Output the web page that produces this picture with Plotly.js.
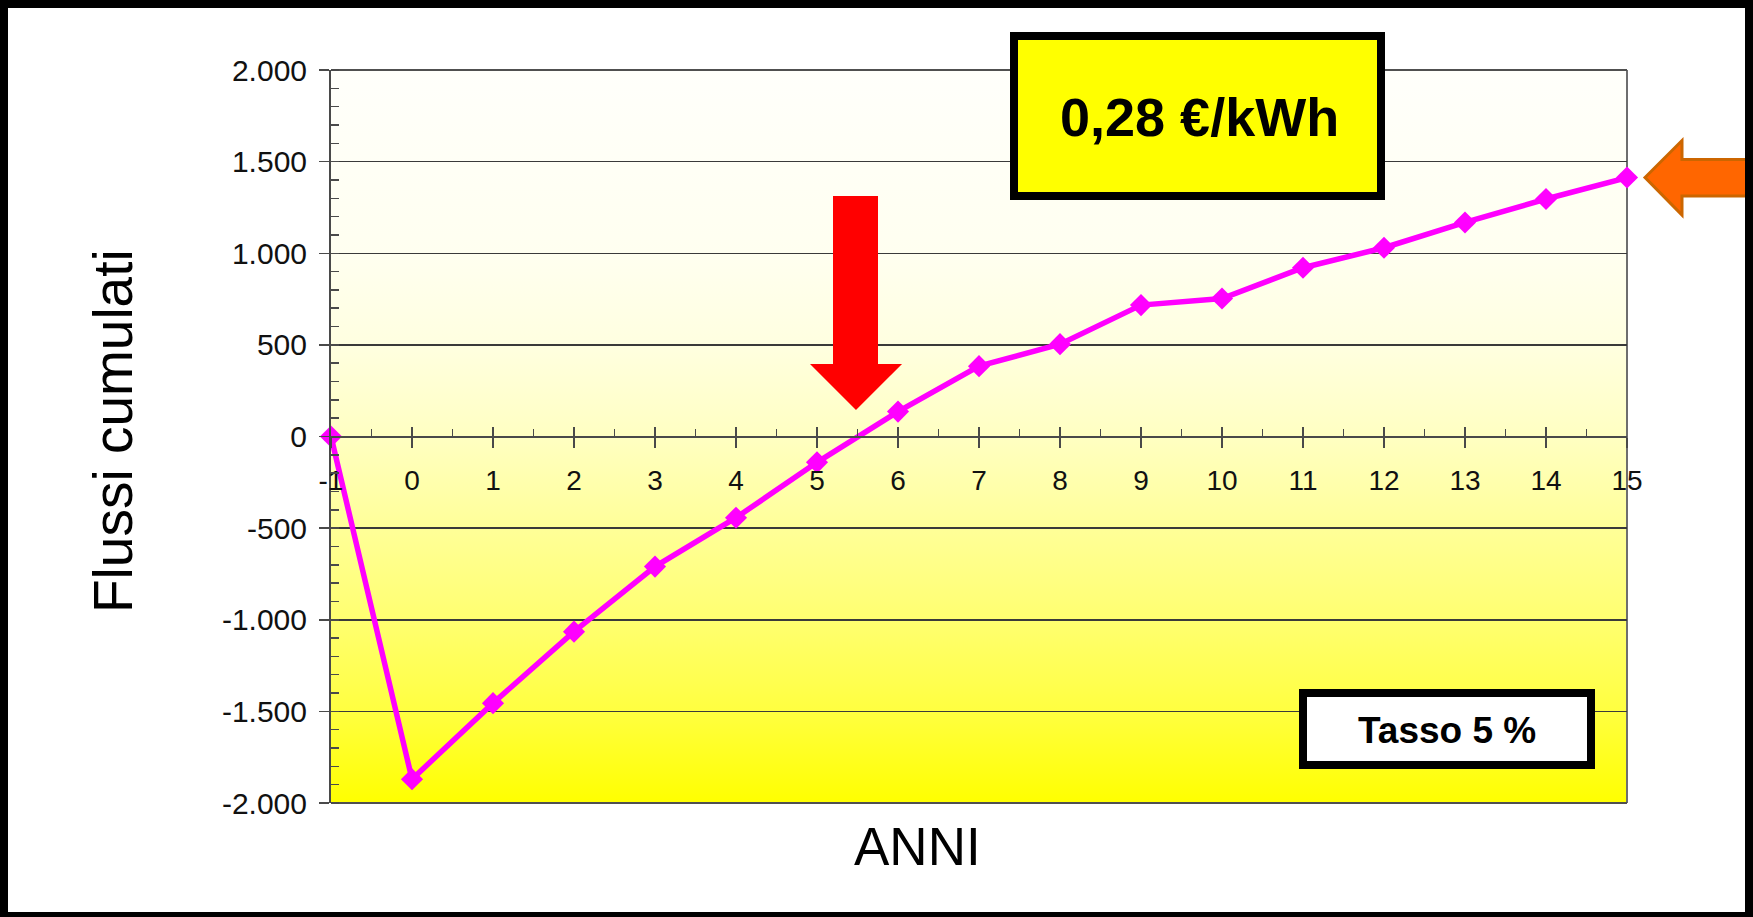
<!DOCTYPE html>
<html>
<head>
<meta charset="utf-8">
<script src="https://cdn.plot.ly/plotly-3.0.1.min.js"></script>
<style>
  html, body { margin: 0; padding: 0; background: #ffffff; }
  #chart { width: 1753px; height: 917px; }
</style>
</head>
<body>
<div id="chart"></div>
<script>
// ---- data ----
const years = [-1, 0, 1, 2, 3, 4, 5, 6, 7, 8, 9, 10, 11, 12, 13, 14, 15];
const cumFlows = [0, -1870, -1455, -1065, -710, -443, -141, 136, 384, 504, 717, 753, 921, 1030, 1168, 1296, 1413];
const yTickVals = [-2000, -1500, -1000, -500, 0, 500, 1000, 1500, 2000];
const yTickText = ['-2.000', '-1.500', '-1.000', '-500', '0', '500', '1.000', '1.500', '2.000'];
const xTickVals = years;
const xTickText = years.map(String);
const priceLabel = '0,28 €/kWh';
const rateLabel = 'Tasso 5 %';
const xTitle = 'ANNI';
const yTitle = 'Flussi cumulati';

// ---- layout geometry (pixels) ----
const FIG_W = 1753, FIG_H = 917;
const L = 331, R = 1627, T = 70, B = 803;
const PW = R - L, PH = B - T;
const px = x => (x - L) / PW;
const py = y => 1 - (y - T) / PH;
const FONT = 'Arial, "Liberation Sans", sans-serif';

function rectShape(x0, y0, x1, y1, fill, lineColor, lineWidth, layer) {
  return {
    type: 'rect', xref: 'paper', yref: 'paper',
    x0: px(x0), x1: px(x1), y0: py(y1), y1: py(y0),
    fillcolor: fill, layer: layer || 'above',
    line: { color: lineColor || 'rgba(0,0,0,0)', width: lineWidth || 0 }
  };
}
function pathShape(points, fill, lineColor, lineWidth) {
  const d = points.map((p, i) => (i ? 'L' : 'M') + px(p[0]).toFixed(5) + ',' + py(p[1]).toFixed(5)).join(' ') + ' Z';
  return {
    type: 'path', xref: 'paper', yref: 'paper', path: d,
    fillcolor: fill, layer: 'above',
    line: { color: lineColor || 'rgba(0,0,0,0)', width: lineWidth || 0 }
  };
}

// gradient background for the plot area
const gradSvg = '<svg xmlns="http://www.w3.org/2000/svg" width="10" height="100" viewBox="0 0 10 100" preserveAspectRatio="none">' +
  '<defs><linearGradient id="g" x1="0" y1="0" x2="0" y2="1">' +
  '<stop offset="0" stop-color="#fffffb"/>' +
  '<stop offset="0.25" stop-color="#fffff0"/>' +
  '<stop offset="0.375" stop-color="#ffffe0"/>' +
  '<stop offset="0.5" stop-color="#ffffc2"/>' +
  '<stop offset="0.625" stop-color="#ffff98"/>' +
  '<stop offset="0.75" stop-color="#ffff70"/>' +
  '<stop offset="0.875" stop-color="#ffff40"/>' +
  '<stop offset="1" stop-color="#ffff00"/>' +
  '</linearGradient></defs><rect x="0" y="0" width="10" height="100" fill="url(#g)"/></svg>';
const gradUri = 'data:image/svg+xml;charset=utf-8,' + encodeURIComponent(gradSvg);

const traces = [
  {
    x: years, y: cumFlows, type: 'scatter', mode: 'lines+markers',
    line: { color: '#ff00ff', width: 5.5 },
    marker: { symbol: 'diamond', size: 17, color: '#ff00ff' },
    cliponaxis: false, showlegend: false
  },
  {
    x: years, y: cumFlows, xaxis: 'x2', type: 'scatter', mode: 'markers',
    marker: { opacity: 0, size: 1 }, hoverinfo: 'skip', showlegend: false
  }
];

const axisColor = '#4a4a4a';
const layout = {
  width: FIG_W, height: FIG_H,
  margin: { l: L, r: FIG_W - R, t: T, b: FIG_H - B, pad: 0 },
  paper_bgcolor: '#ffffff',
  plot_bgcolor: 'rgba(0,0,0,0)',
  showlegend: false,
  font: { family: FONT, color: '#111111' },
  xaxis: {
    range: [-1, 15], anchor: 'free', position: 0.5,
    tickmode: 'array', tickvals: xTickVals, ticktext: xTickText,
    ticks: 'outside', ticklen: 10, tickwidth: 1.5, tickcolor: axisColor,
    ticklabelstandoff: 9,
    tickfont: { family: FONT, size: 28, color: '#111111' },
    minor: { tickmode: 'linear', tick0: -0.5, dtick: 1, ticks: 'inside', ticklen: 7, tickwidth: 1.5, tickcolor: axisColor, showgrid: false },
    showline: true, linecolor: axisColor, linewidth: 2,
    showgrid: false, zeroline: false, fixedrange: true
  },
  xaxis2: {
    range: [-1, 15], overlaying: 'x', anchor: 'free', position: 0.5, side: 'bottom',
    tickmode: 'array', tickvals: xTickVals,
    ticks: 'inside', ticklen: 10, tickwidth: 1.5, tickcolor: axisColor,
    showticklabels: false, showline: false, showgrid: false, zeroline: false, fixedrange: true
  },
  yaxis: {
    range: [-2000, 2000],
    tickmode: 'array', tickvals: yTickVals, ticktext: yTickText,
    ticks: 'outside', ticklen: 10, tickwidth: 1.5, tickcolor: axisColor,
    ticklabelstandoff: 6,
    tickfont: { family: FONT, size: 30, color: '#111111' },
    minor: { tickmode: 'linear', tick0: 0, dtick: 100, ticks: 'inside', ticklen: 8, tickwidth: 1.5, tickcolor: axisColor, showgrid: false },
    showline: true, linecolor: axisColor, linewidth: 2,
    showgrid: true, gridcolor: '#3a3a3a', gridwidth: 1.5,
    zeroline: false, fixedrange: true
  },
  images: [{
    source: gradUri, xref: 'paper', yref: 'paper', x: 0, y: 1, sizex: 1, sizey: 1,
    sizing: 'stretch', xanchor: 'left', yanchor: 'top', layer: 'below'
  }],
  shapes: [
    // plot frame (top/right/bottom)
    { type: 'line', xref: 'paper', yref: 'paper', x0: 1, x1: 1, y0: 0, y1: 1, layer: 'below', line: { color: '#6e6e6e', width: 2 } },
    { type: 'line', xref: 'paper', yref: 'paper', x0: 0, x1: 1, y0: 1, y1: 1, layer: 'below', line: { color: '#505050', width: 2 } },
    { type: 'line', xref: 'paper', yref: 'paper', x0: 0, x1: 1, y0: 0, y1: 0, layer: 'below', line: { color: '#505050', width: 2 } },
    // red arrow (down)
    pathShape([[833, 196], [878, 196], [878, 364], [902, 364], [856, 410], [810, 364], [833, 364]], '#ff0000'),
    // orange arrow (left)
    pathShape([[1645, 177.5], [1682, 140.5], [1682, 159.5], [1765, 159.5], [1765, 196], [1682, 196], [1682, 215]], '#ff6600', '#cc6600', 3),
    // price box
    rectShape(1014, 36, 1381, 196, '#ffff00', '#000000', 8),
    // rate box
    rectShape(1303, 693, 1591, 765, '#ffffff', '#000000', 8),
    // outer border
    rectShape(0, 0, FIG_W, 8, '#000000'),
    rectShape(0, 0, 8, FIG_H, '#000000'),
    rectShape(FIG_W - 8, 0, FIG_W, FIG_H, '#000000'),
    rectShape(0, FIG_H - 5, FIG_W, FIG_H, '#000000')
  ],
  annotations: [
    { text: '<b>' + priceLabel + '</b>', xref: 'paper', yref: 'paper', x: px(1199), y: py(117),
      xanchor: 'center', yanchor: 'middle', showarrow: false,
      font: { family: FONT, size: 54, color: '#000000' } },
    { text: '<b>' + rateLabel + '</b>', xref: 'paper', yref: 'paper', x: px(1447), y: py(730),
      xanchor: 'center', yanchor: 'middle', showarrow: false,
      font: { family: FONT, size: 37, color: '#000000' } },
    { text: xTitle, xref: 'paper', yref: 'paper', x: px(917), y: py(846),
      xanchor: 'center', yanchor: 'middle', showarrow: false,
      font: { family: FONT, size: 53, color: '#000000' } },
    { text: yTitle, xref: 'paper', yref: 'paper', x: px(113), y: py(431), textangle: -90,
      xanchor: 'center', yanchor: 'middle', showarrow: false,
      font: { family: FONT, size: 55, color: '#000000' } }
  ]
};

Plotly.newPlot('chart', traces, layout, { displayModeBar: false, staticPlot: true });
</script>
</body>
</html>
